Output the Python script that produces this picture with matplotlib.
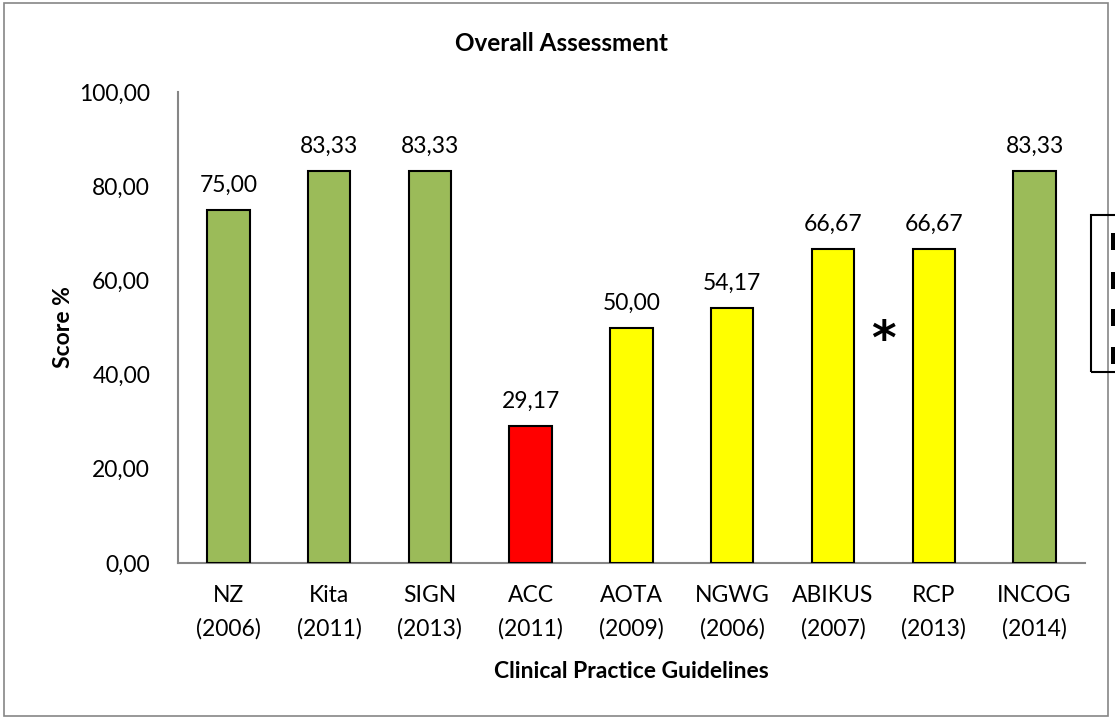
import matplotlib
matplotlib.use("Agg")
import matplotlib.pyplot as plt
from matplotlib.patches import Rectangle

plt.rcParams['font.family'] = ['Lato', 'DejaVu Sans']

guidelines = ['NZ', 'Kita', 'SIGN', 'ACC', 'AOTA', 'NGWG', 'ABIKUS', 'RCP', 'INCOG']
years = ['2006', '2011', '2013', '2011', '2009', '2006', '2007', '2013', '2014']
scores = [75.00, 83.33, 83.33, 29.17, 50.00, 54.17, 66.67, 66.67, 83.33]
ratings = ['high', 'high', 'high', 'low', 'mid', 'mid', 'mid', 'mid', 'high']

colors = {'high': '#9BBB59', 'mid': '#FFFF00', 'low': '#FF0000'}

def fmt(v):
    return ('%.2f' % v).replace('.', ',')

fig = plt.figure(figsize=(11.15, 7.19), dpi=100)
ax = fig.add_axes([0.1596, 0.217, 0.8134, 0.655])

x = range(len(guidelines))
bars = ax.bar(x, scores, width=0.42, color=[colors[r] for r in ratings],
              edgecolor='black', linewidth=1.5, zorder=3)

for xi, v in zip(x, scores):
    ax.text(xi, v + 3.0, fmt(v), ha='center', va='bottom', fontsize=16.5)

# asterisk between ABIKUS and RCP
ax.text(6.5, 47, '*', ha='center', va='center', fontsize=34, fontweight='bold',
        family='DejaVu Sans')

ax.set_xlim(-0.5, 8.5)
ax.set_ylim(0, 100)
ax.set_yticks([0, 20, 40, 60, 80, 100])
ax.set_yticklabels([fmt(t) for t in [0, 20, 40, 60, 80, 100]], fontsize=16.5)
ax.set_xticks(list(x))
ax.set_xticklabels([g + '\n(' + y + ')' for g, y in zip(guidelines, years)],
                   fontsize=16.5, linespacing=1.65)
ax.tick_params(axis='both', length=0)
ax.tick_params(axis='y', pad=20)
ax.tick_params(axis='x', pad=16)

for s in ['top', 'right']:
    ax.spines[s].set_visible(False)
for s in ['left', 'bottom']:
    ax.spines[s].set_color('#868686')
    ax.spines[s].set_linewidth(1.5)

ax.set_ylabel('Score %', fontsize=16.5, fontweight='bold', labelpad=4)
ax.set_xlabel('Clinical Practice Guidelines', fontsize=16.5, fontweight='bold', labelpad=16)
fig.text(0.504, 0.940, 'Overall Assessment', ha='center', va='center',
         fontsize=17.5, fontweight='bold')

# outer chart border
fig.patches.append(Rectangle((0.004, 0.004), 0.99, 0.992, transform=fig.transFigure,
                             fill=False, edgecolor='#868686', linewidth=1.2))

# legend box cut off at the right edge
fig.patches.append(Rectangle((1091 / 1115, 1 - 372 / 719), 0.05, 157 / 719,
                             transform=fig.transFigure, fill=False,
                             edgecolor='black', linewidth=1.5))
for yy in [242, 281, 318, 356]:
    fig.patches.append(Rectangle((1111 / 1115, 1 - (yy + 8) / 719), 0.0035, 17 / 719,
                                 transform=fig.transFigure, facecolor='black',
                                 edgecolor='none'))

fig.savefig('out.png', dpi=100)
